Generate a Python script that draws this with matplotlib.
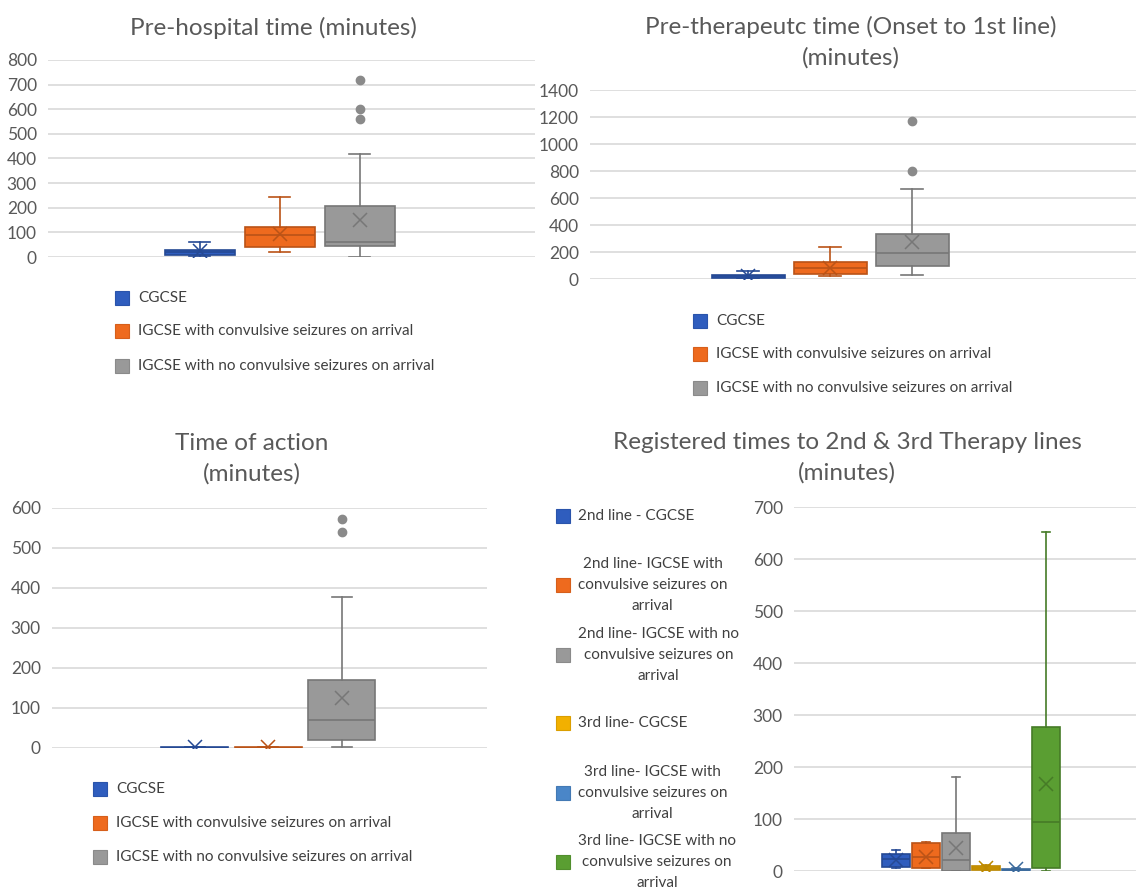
import numpy as np
import matplotlib
matplotlib.use("Agg")
import matplotlib.pyplot as plt
from matplotlib.patches import Rectangle
from matplotlib.colors import to_rgb

plt.rcParams['font.family'] = ['Lato', 'DejaVu Sans']

W, H = 1138, 888
TXT = '#595959'
GRID = '#d9d9d9'

# ---- data ----
groups3 = ['CGCSE',
           'IGCSE with convulsive seizures on arrival',
           'IGCSE with no convulsive seizures on arrival']
colors3 = ['#2f5dbe', '#ee6a1e', '#999999']

# each stat: whislo, q1, med, q3, whishi, mean, fliers
prehosp_stats = [
    [5, 8, 20, 30, 60, 25, []],
    [20, 40, 88, 122, 242, 95, []],
    [0, 45, 60, 208, 420, 152, [560, 600, 720]],
]
pretherap_stats = [
    [0, 10, 20, 30, 60, 25, []],
    [20, 37, 84, 126, 240, 85, []],
    [27, 99, 190, 331, 664, 272, [797, 1170]],
]
action_stats = [
    [0, 0, 1, 3, 3, 3, []],
    [0, 0, 1, 3, 3, 3, []],
    [2, 20, 69, 171, 378, 124, [540, 572]],
]

groups6 = ['2nd line - CGCSE',
           '2nd line- IGCSE with\nconvulsive seizures on\narrival',
           '2nd line- IGCSE with no\nconvulsive seizures on\narrival',
           '3rd line- CGCSE',
           '3rd line- IGCSE with\nconvulsive seizures on\narrival',
           '3rd line- IGCSE with no\nconvulsive seizures on\narrival']
colors6 = ['#2f5dbe', '#ee6a1e', '#999999', '#f2b000', '#4a86c8', '#5a9e32']
lines_stats = [
    [5, 8, 23, 33, 40, 22, []],
    [5, 6, 26, 53, 56, 27, []],
    [0, 0, 21, 73, 181, 44, []],
    [0, 1, 5, 10, 12, 5, []],
    [1, 1, 2, 4, 5, 3, []],
    [0, 5, 95, 276, 652, 167, []],
]


def dark(c, f=0.78):
    r, g, b = to_rgb(c)
    return (r * f, g * f, b * f)


def px_axes(fig, left, top, right, bottom):
    return fig.add_axes([left / W, 1 - bottom / H, (right - left) / W, (bottom - top) / H])


def draw_boxes(ax, stats, colors, center, step, width, ymax, ystep):
    n = len(stats)
    for i, (s, c) in enumerate(zip(stats, colors)):
        lo, q1, med, q3, hi, mean, fl = s
        d = {'whislo': lo, 'q1': q1, 'med': med, 'q3': q3, 'whishi': hi,
             'mean': mean, 'fliers': fl}
        pos = center + (i - (n - 1) / 2) * step
        ec = dark(c)
        ax.bxp([d], positions=[pos], widths=width, patch_artist=True,
               showmeans=True, manage_ticks=False, capwidths=width * 0.3,
               boxprops=dict(facecolor=c, edgecolor=ec, linewidth=1.2),
               medianprops=dict(color=ec, linewidth=1.2),
               whiskerprops=dict(color=ec, linewidth=1.2),
               capprops=dict(color=ec, linewidth=1.2),
               meanprops=dict(marker='x', markeredgecolor=ec, markersize=10,
                              markeredgewidth=1.1),
               flierprops=dict(marker='o', markerfacecolor=dark(c, 0.9),
                               markeredgecolor=dark(c, 0.9), markersize=6))
    ax.set_xlim(0, 1)
    ax.set_ylim(0, ymax)
    ax.set_yticks(np.arange(0, ymax + 1, ystep))
    ax.yaxis.grid(True, color=GRID, linewidth=1.2)
    ax.set_axisbelow(True)
    ax.set_xticks([])
    for sp in ax.spines.values():
        sp.set_visible(False)
    ax.tick_params(axis='y', length=0, labelsize=12.5, labelcolor=TXT, pad=8)


def draw_legend(fig, labels, colors, sq_x, ys, txt_x, size=11):
    for lab, c, y in zip(labels, colors, ys):
        fig.patches.append(Rectangle((sq_x / W, 1 - (y + 7) / H), 14 / W, 14 / H,
                                     transform=fig.transFigure, facecolor=c,
                                     edgecolor=dark(c, 0.9), linewidth=0.8))
        fig.text(txt_x / W, 1 - y / H, lab, ha='left', va='center', fontsize=size,
                 color='#404040', multialignment='center', linespacing=1.65)


def title(fig, x, y, s):
    fig.text(x / W, 1 - y / H, s, ha='center', va='center', fontsize=17.5,
             color=TXT, linespacing=1.5)


fig = plt.figure(figsize=(W / 100, H / 100), dpi=100)

# panel 1
ax1 = px_axes(fig, 48, 60, 535, 257)
draw_boxes(ax1, prehosp_stats, colors3, 0.476, 0.164, 0.144, 800, 100)
title(fig, 273, 28, 'Pre-hospital time (minutes)')
draw_legend(fig, groups3, colors3, 115, [298, 331, 366], 138)

# panel 2
ax2 = px_axes(fig, 590, 90, 1136, 279)
draw_boxes(ax2, pretherap_stats, colors3, 0.44, 0.15, 0.134, 1400, 200)
title(fig, 851, 42, 'Pre-therapeutc time (Onset to 1st line)\n(minutes)')
draw_legend(fig, groups3, colors3, 693, [321, 354, 388], 716)

# panel 3
ax3 = px_axes(fig, 52, 508, 487, 748)
draw_boxes(ax3, action_stats, colors3, 0.497, 0.169, 0.154, 600, 100)
title(fig, 252, 459, 'Time of action\n(minutes)')
draw_legend(fig, groups3, colors3, 93, [789, 823, 857], 116)

# panel 4
ax4 = px_axes(fig, 794, 507, 1136, 871)
draw_boxes(ax4, lines_stats, colors6, 0.518, 0.0877, 0.082, 700, 100)
title(fig, 847, 458, 'Registered times to 2nd & 3rd Therapy lines\n(minutes)')
draw_legend(fig, groups6, colors6, 556, [516, 585, 655, 723, 793, 862], 578)

fig.savefig('out.png', dpi=100)
